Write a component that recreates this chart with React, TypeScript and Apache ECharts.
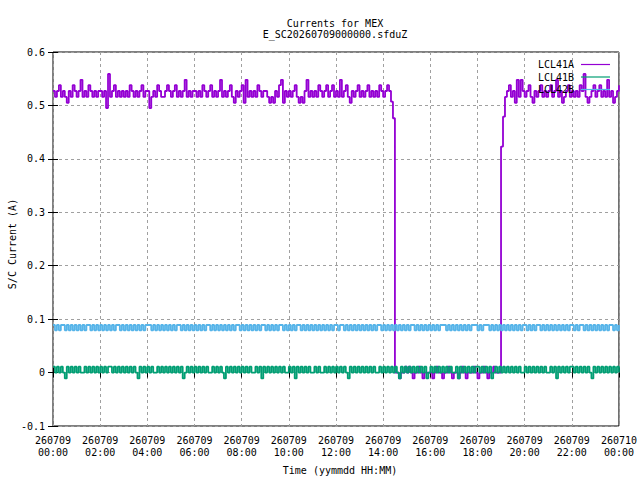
import React, { useEffect, useRef } from "react";
import * as echarts from "echarts";

const TITLE_LINE1 = "Currents for MEX";
const TITLE_LINE2 = "E_SC20260709000000.sfduZ";
const X_NAME = "Time (yymmdd HH:MM)";
const Y_NAME = "S/C Current (A)";
const SERIES_NAMES = ["LCL41A", "LCL41B", "LCL42B"];
const SERIES_COLORS = ["#9400d3", "#009e73", "#56b4e9"];
const STEP_MINUTES = 5;

// LCL41A, one row per hour, 5-minute samples (A)
const lcl41a: number[][] = [
  [0.527,0.516,0.527,0.538,0.516,0.527,0.516,0.505,0.527,0.516,0.538,0.527],
  [0.516,0.527,0.548,0.516,0.527,0.516,0.538,0.527,0.516,0.527,0.516,0.527],
  [0.527,0.516,0.527,0.495,0.559,0.516,0.527,0.538,0.516,0.527,0.516,0.527],
  [0.516,0.527,0.516,0.538,0.527,0.516,0.527,0.516,0.527,0.538,0.516,0.527],
  [0.527,0.495,0.516,0.527,0.516,0.538,0.527,0.516,0.516,0.527,0.538,0.527],
  [0.516,0.527,0.538,0.516,0.527,0.516,0.527,0.548,0.516,0.527,0.516,0.527],
  [0.527,0.516,0.527,0.516,0.538,0.527,0.516,0.527,0.538,0.516,0.527,0.516],
  [0.527,0.548,0.516,0.527,0.516,0.527,0.538,0.516,0.505,0.527,0.516,0.527],
  [0.538,0.505,0.548,0.516,0.527,0.516,0.527,0.516,0.538,0.527,0.516,0.527],
  [0.527,0.516,0.505,0.516,0.505,0.527,0.516,0.538,0.548,0.505,0.527,0.516],
  [0.527,0.516,0.527,0.538,0.516,0.505,0.516,0.505,0.527,0.548,0.516,0.527],
  [0.516,0.527,0.516,0.538,0.527,0.516,0.527,0.538,0.516,0.527,0.538,0.516],
  [0.527,0.516,0.548,0.516,0.527,0.538,0.516,0.505,0.527,0.516,0.527,0.538],
  [0.516,0.527,0.516,0.527,0.538,0.516,0.527,0.516,0.527,0.516,0.538,0.527],
  [0.516,0.527,0.538,0.527,0.507,0.476,0,0,-0.011,0,0,0.011],
  [0,0.011,0,-0.011,0,0,0.011,0,-0.011,0,0,0],
  [0,-0.011,0,0.011,0,0,-0.011,0,0,0.011,0,-0.011],
  [0,0,-0.011,0,0.011,0,-0.011,0,0,0,0.011,0],
  [-0.011,0,0,0.011,0,-0.011,0,0,0.011,0,0,0],
  [0.423,0.479,0.516,0.527,0.538,0.516,0.527,0.505,0.548,0.516,0.548,0.527],
  [0.516,0.527,0.538,0.516,0.505,0.527,0.516,0.527,0.538,0.516,0.527,0.516],
  [0.527,0.538,0.516,0.527,0.548,0.516,0.527,0.505,0.516,0.527,0.538,0.516],
  [0.527,0.516,0.527,0.516,0.538,0.527,0.559,0.516,0.505,0.516,0.527,0.538],
  [0.516,0.527,0.538,0.516,0.527,0.516,0.548,0.516,0.527,0.505,0.516,0.527],
  [0.538],
];

// LCL41B
const lcl41b: number[][] = [
  [0.011,0,0.011,0,0.011,0,-0.011,0.011,0,0.011,0,0.011],
  [0,0.011,0,0,0.011,0,0.011,0,0.011,0,0.011,0],
  [0.011,0,0.011,0,0.011,0.011,0,0.011,0,0.011,0,0.011],
  [0,0.011,0,0.011,0,0.011,0,-0.011,0.011,0,0.011,0],
  [0.011,0,0.011,0,0,0.011,0,0.011,0,0.011,0,0.011],
  [0,0.011,0,0.011,0,0.011,-0.011,0,0.011,0,0.011,0],
  [0.011,0,0.011,0,0.011,0,0.011,0,0,0.011,0,0.011],
  [0,0.011,0,-0.011,0.011,0,0.011,0,0.011,0,0.011,0],
  [0.011,0,0.011,0,0.011,0,0,0.011,0,0.011,-0.011,0.011],
  [0,0.011,0,0.011,0,0.011,0,0.011,0,0.011,0,0],
  [0.011,0,0.011,-0.011,0.011,0,0.011,0,0.011,0,0.011,0],
  [0,0.011,0,0.011,0,0,0.011,0,0.011,0,0.011,0],
  [0.011,0,0.011,0,0.011,0,-0.011,0.011,0,0.011,0,0.011],
  [0,0.011,0,0.011,0,0.011,0,0.011,0,0,0.011,0],
  [0.011,0,0.011,0,0.011,0,0.011,0,-0.011,0.011,0,0.011],
  [0,0.011,0,0.011,0,0.011,0,0.011,0,0.011,-0.011,0],
  [0.011,0,0.011,0,0.011,0,0.011,0,0.011,0,0.011,0],
  [0,0.011,-0.011,0.011,0,0.011,0,0.011,0,0.011,0,0.011],
  [0.011,0,0.011,0,0.011,0,0.011,-0.011,0,0.011,0,0.011],
  [0,0.011,0,0.011,0,0.011,0,0.011,0,0.011,0,0],
  [0.011,0,0.011,0,0.011,0,0.011,0,0.011,0,0.011,0],
  [0,0.011,0,0.011,-0.011,0.011,0,0.011,0,0.011,0,0.011],
  [0.011,0,0.011,0,0.011,0,0.011,0,0.011,0,-0.011,0.011],
  [0,0.011,0,0.011,0,0.011,0,0.011,0,0.011,0,0.011],
  [0],
];

// LCL42B
const lcl42b: number[][] = [
  [0.089,0.079,0.089,0.079,0.089,0.089,0.079,0.089,0.079,0.089,0.079,0.089],
  [0.079,0.089,0.079,0.089,0.079,0.089,0.089,0.079,0.089,0.079,0.089,0.079],
  [0.089,0.079,0.089,0.079,0.089,0.079,0.089,0.079,0.089,0.089,0.079,0.089],
  [0.079,0.089,0.079,0.089,0.079,0.089,0.079,0.089,0.079,0.089,0.079,0.089],
  [0.089,0.089,0.079,0.089,0.079,0.089,0.079,0.089,0.079,0.089,0.079,0.089],
  [0.079,0.089,0.079,0.089,0.089,0.079,0.089,0.079,0.089,0.079,0.089,0.079],
  [0.089,0.079,0.089,0.079,0.089,0.079,0.089,0.089,0.079,0.089,0.079,0.089],
  [0.079,0.089,0.079,0.089,0.079,0.089,0.079,0.089,0.079,0.089,0.089,0.079],
  [0.089,0.079,0.089,0.079,0.089,0.079,0.089,0.079,0.089,0.079,0.089,0.089],
  [0.079,0.089,0.079,0.089,0.079,0.089,0.079,0.089,0.089,0.079,0.089,0.079],
  [0.089,0.079,0.089,0.079,0.089,0.089,0.079,0.089,0.079,0.089,0.079,0.089],
  [0.079,0.089,0.079,0.089,0.079,0.089,0.079,0.089,0.079,0.089,0.079,0.089],
  [0.089,0.079,0.089,0.089,0.079,0.089,0.079,0.089,0.079,0.089,0.079,0.089],
  [0.079,0.089,0.079,0.089,0.079,0.089,0.079,0.089,0.079,0.089,0.089,0.079],
  [0.089,0.079,0.089,0.079,0.089,0.079,0.089,0.079,0.089,0.079,0.089,0.079],
  [0.089,0.079,0.089,0.089,0.079,0.089,0.079,0.089,0.079,0.089,0.079,0.089],
  [0.079,0.089,0.079,0.089,0.079,0.089,0.089,0.089,0.079,0.089,0.079,0.089],
  [0.079,0.089,0.079,0.089,0.079,0.089,0.079,0.089,0.079,0.089,0.089,0.089],
  [0.079,0.089,0.079,0.089,0.089,0.089,0.079,0.089,0.079,0.089,0.079,0.089],
  [0.079,0.089,0.079,0.089,0.079,0.089,0.079,0.089,0.079,0.089,0.079,0.089],
  [0.089,0.079,0.089,0.079,0.089,0.079,0.089,0.089,0.079,0.089,0.079,0.089],
  [0.079,0.089,0.079,0.089,0.079,0.089,0.079,0.089,0.079,0.089,0.079,0.089],
  [0.089,0.079,0.089,0.079,0.089,0.089,0.079,0.089,0.079,0.089,0.079,0.089],
  [0.079,0.089,0.079,0.089,0.079,0.089,0.079,0.089,0.089,0.079,0.089,0.079],
  [0.089],
];

const X_MIN = 0;
const X_MAX = 24;
const X_INTERVAL = 2;
const Y_MIN = -0.1;
const Y_MAX = 0.6;
const Y_INTERVAL = 0.1;

function toPoints(rows: number[][]): [number, number][] {
  const flat = rows.flat();
  return flat.map((v, i) => [(i * STEP_MINUTES) / 60, v]);
}

function xLabel(h: number): string {
  const hh = Math.round(h);
  const day = hh >= 24 ? "260710" : "260709";
  const hr = hh % 24;
  return day + "\n" + (hr < 10 ? "0" + hr : String(hr)) + ":00";
}

function yLabel(v: number): string {
  const r = Math.round(v * 10) / 10;
  return r === 0 ? "0" : r.toFixed(1);
}

const FONT = '"DejaVu Sans Mono", monospace';

export default function App() {
  const ref = useRef<HTMLDivElement>(null);
  useEffect(() => {
    if (!ref.current) return;
    const chart = echarts.init(ref.current, null, { renderer: "svg" });
    const tickStyle = { inside: true, length: 5, lineStyle: { color: "#000", width: 1 } };
    const split = { show: true, lineStyle: { color: "#a0a0a0", type: [3, 3] as any, width: 1 } };
    const textBase = { fill: "#000", font: "10px " + FONT };
    chart.setOption({
      animation: false,
      backgroundColor: "#fff",
      textStyle: { fontFamily: FONT },
      grid: {
        left: 53, right: 18, top: 52, bottom: 54,
        show: true, borderColor: "#000", borderWidth: 1, backgroundColor: "transparent",
        containLabel: false,
      },
      legend: {
        data: SERIES_NAMES,
        orient: "vertical",
        right: 25,
        top: 53.5,
        align: "right",
        icon: "rect",
        itemWidth: 29,
        itemHeight: 1.2,
        itemGap: 0.5,
        textStyle: { fontFamily: FONT, fontSize: 10, color: "#000", lineHeight: 12, padding: [0, 2, 0, 0] },
        selectedMode: false,
      },
      xAxis: [
        {
          type: "value", min: X_MIN, max: X_MAX, interval: X_INTERVAL, position: "bottom",
          axisLine: { show: false }, axisTick: tickStyle,
          axisLabel: { formatter: xLabel, color: "#000", fontFamily: FONT, fontSize: 10, lineHeight: 12, margin: 8 },
          splitLine: split,
        },
        {
          type: "value", min: X_MIN, max: X_MAX, interval: X_INTERVAL, position: "top",
          axisLine: { show: false }, axisTick: tickStyle, axisLabel: { show: false }, splitLine: { show: false },
        },
      ],
      yAxis: [
        {
          type: "value", min: Y_MIN, max: Y_MAX, interval: Y_INTERVAL, position: "left",
          axisLine: { show: false }, axisTick: tickStyle,
          axisLabel: { formatter: yLabel, color: "#000", fontFamily: FONT, fontSize: 10, margin: 8 },
          splitLine: split,
        },
        {
          type: "value", min: Y_MIN, max: Y_MAX, interval: Y_INTERVAL, position: "right",
          axisLine: { show: false }, axisTick: tickStyle, axisLabel: { show: false }, splitLine: { show: false },
        },
      ],
      series: [lcl41a, lcl41b, lcl42b].map((rows, i) => ({
        name: SERIES_NAMES[i],
        type: "line",
        data: toPoints(rows),
        showSymbol: false,
        symbol: "none",
        step: "end",
        color: SERIES_COLORS[i],
        lineStyle: { color: SERIES_COLORS[i], width: 1.8 },
        xAxisIndex: 0,
        yAxisIndex: 0,
        clip: true,
      })),
      graphic: [
        { type: "text", x: 335, y: 23, style: { ...textBase, text: TITLE_LINE1, textAlign: "center", textVerticalAlign: "middle", align: "center", verticalAlign: "middle" } },
        { type: "text", x: 335, y: 34.5, style: { ...textBase, text: TITLE_LINE2, textAlign: "center", textVerticalAlign: "middle", align: "center", verticalAlign: "middle" } },
        { type: "text", x: 340, y: 470, style: { ...textBase, text: X_NAME, textAlign: "center", textVerticalAlign: "middle", align: "center", verticalAlign: "middle" } },
        { type: "text", x: 12, y: 244, rotation: Math.PI / 2, style: { ...textBase, text: Y_NAME, textAlign: "center", textVerticalAlign: "middle", align: "center", verticalAlign: "middle" } },
      ],
    });
    return () => chart.dispose();
  }, []);
  return (
    <div
      ref={ref}
      style={{ position: "absolute", left: 0, top: 0, width: 640, height: 480, background: "#fff" }}
    />
  );
}
